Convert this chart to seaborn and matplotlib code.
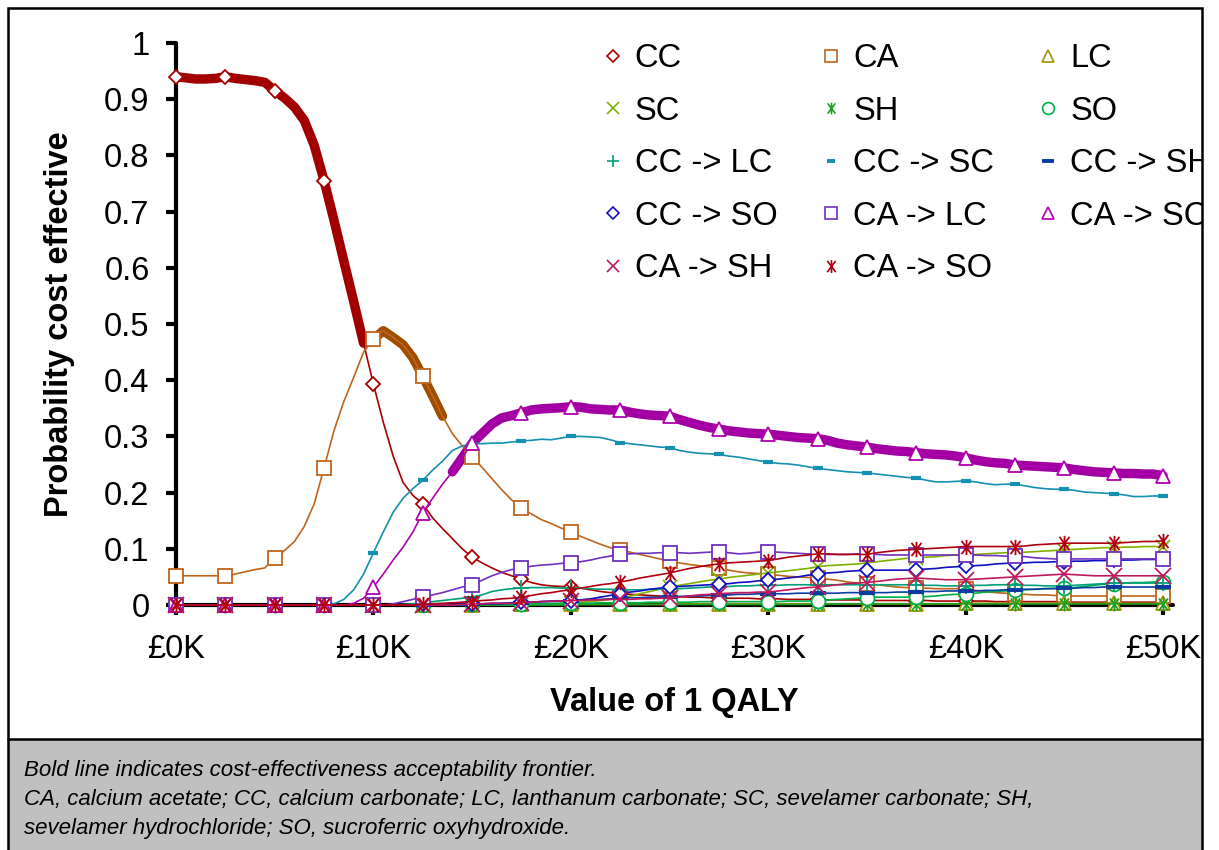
import numpy as np
import matplotlib
matplotlib.use("Agg")
import matplotlib.pyplot as plt
from matplotlib.lines import Line2D
from matplotlib.patches import Rectangle
from matplotlib.path import Path
from matplotlib.ticker import FuncFormatter, MultipleLocator
import seaborn as sns

# Willingness-to-pay grid (GBP thousands per QALY), 0.5K steps
wtp_k = np.arange(0, 50.5, 0.5)

cc = [
    .940, .938, .936, .936, .937, .940, .937, .935, .933, .930,
    .915, .902, .886, .862, .818, .755, .685, .612, .540, .466,
    .393, .325, .265, .218, .195, .180, .155, .136, .118, .100,
    .085, .075, .066, .058, .052, .046, .040, .036, .034, .033,
    .032, .030, .027, .024, .022, .021, .019, .018, .017, .016,
    .015, .015, .014, .014, .013, .013, .012, .012, .012, .011,
    .011, .011, .010, .010, .010, .010, .009, .009, .009, .009,
    .009, .008, .008, .008, .008, .008, .008, .007, .007, .007,
    .007, .007, .007, .006, .006, .006, .006, .006, .006, .006,
    .006, .005, .005, .005, .005, .005, .005, .005, .005, .005,
    .005]
ca = [
    .052, .052, .052, .052, .052, .052, .055, .059, .063, .066,
    .084, .097, .113, .140, .180, .244, .310, .362, .405, .450,
    .473, .488, .476, .463, .440, .407, .372, .336, .305, .283,
    .264, .245, .225, .205, .187, .172, .162, .152, .145, .137,
    .130, .122, .115, .108, .102, .098, .094, .090, .086, .082,
    .078, .075, .072, .070, .068, .066, .062, .059, .057, .056,
    .055, .053, .051, .050, .049, .048, .046, .044, .041, .039,
    .038, .036, .034, .032, .031, .030, .030, .029, .029, .029,
    .028, .026, .024, .022, .021, .020, .019, .018, .018, .017,
    .017, .016, .016, .016, .016, .016, .016, .016, .016, .016,
    .016]
lc = [
    0, 0, 0, 0, 0, 0, 0, 0, 0, 0,
    0, 0, 0, 0, 0, 0, 0, 0, 0, 0,
    0, 0, 0, 0, 0, 0, 0, 0, 0, 0,
    0, 0, .001, .001, .001, .001, .001, .001, .001, .001,
    .001, .001, .001, .001, .001, .001, .001, .001, .001, .001,
    .002, .002, .002, .002, .002, .002, .002, .002, .002, .002,
    .002, .002, .002, .002, .002, .002, .002, .002, .002, .002,
    .002, .002, .002, .002, .002, .002, .002, .002, .002, .002,
    .003, .003, .003, .003, .003, .003, .003, .003, .003, .003,
    .003, .003, .003, .003, .003, .003, .003, .003, .003, .003,
    .003]
sc = [
    0, 0, 0, 0, 0, 0, 0, 0, 0, 0,
    0, 0, 0, 0, 0, 0, 0, 0, 0, 0,
    0, 0, 0, 0, 0, 0, 0, 0, 0, 0,
    0, 0, .001, .001, .001, .001, .002, .002, .002, .003,
    .004, .005, .006, .008, .010, .013, .016, .020, .024, .028,
    .032, .035, .038, .041, .044, .046, .049, .051, .053, .055,
    .057, .059, .061, .063, .065, .068, .070, .071, .072, .073,
    .075, .077, .079, .081, .083, .084, .085, .086, .088, .089,
    .089, .090, .091, .092, .093, .093, .094, .095, .096, .097,
    .098, .099, .100, .101, .102, .102, .103, .103, .104, .104,
    .104]
sh = [
    0, 0, 0, 0, 0, 0, 0, 0, 0, 0,
    0, 0, 0, 0, 0, 0, 0, 0, 0, 0,
    0, 0, 0, 0, 0, 0, 0, 0, 0, 0,
    0, 0, 0, 0, 0, 0, 0, 0, 0, 0,
    .001, .001, .001, .001, .001, .001, .001, .001, .001, .001,
    .001, .001, .001, .001, .001, .001, .001, .001, .001, .001,
    .001, .001, .001, .001, .001, .002, .002, .002, .002, .002,
    .002, .002, .002, .002, .002, .002, .002, .002, .002, .002,
    .002, .002, .002, .002, .002, .002, .002, .002, .002, .002,
    .002, .002, .002, .002, .002, .002, .002, .002, .002, .002,
    .002]
so = [
    0, 0, 0, 0, 0, 0, 0, 0, 0, 0,
    0, 0, 0, 0, 0, 0, 0, 0, 0, 0,
    0, 0, 0, 0, 0, 0, 0, 0, 0, 0,
    .001, .001, .001, .001, .001, .002, .002, .002, .002, .003,
    .003, .003, .003, .004, .004, .004, .004, .004, .005, .005,
    .005, .005, .005, .006, .006, .006, .006, .006, .006, .006,
    .006, .006, .007, .007, .007, .008, .009, .010, .011, .012,
    .013, .014, .014, .014, .014, .014, .015, .016, .018, .019,
    .020, .021, .023, .024, .025, .026, .027, .028, .029, .030,
    .030, .031, .033, .035, .037, .038, .039, .040, .040, .041,
    .041]
cc_lc = [
    0, 0, 0, 0, 0, 0, 0, 0, 0, 0,
    0, 0, 0, 0, 0, 0, 0, 0, 0, 0,
    0, 0, 0, .001, .002, .004, .006, .008, .010, .012,
    .014, .018, .024, .027, .029, .030, .031, .031, .031, .030,
    .030, .030, .029, .028, .028, .027, .027, .027, .028, .028,
    .028, .029, .030, .031, .032, .032, .033, .034, .034, .035,
    .035, .035, .036, .036, .036, .036, .036, .036, .036, .036,
    .036, .036, .036, .036, .036, .036, .035, .035, .034, .034,
    .034, .035, .035, .036, .036, .036, .035, .035, .034, .034,
    .034, .035, .036, .037, .038, .039, .039, .039, .039, .039,
    .039]
cc_sc = [
    0, 0, 0, 0, 0, 0, 0, 0, 0, 0,
    0, 0, 0, 0, 0, 0, .002, .010, .027, .055,
    .093, .130, .165, .190, .207, .222, .240, .256, .275, .283,
    .287, .287, .288, .288, .290, .292, .293, .295, .294, .297,
    .300, .300, .299, .298, .294, .289, .287, .285, .283, .281,
    .280, .275, .272, .270, .269, .268, .265, .263, .260, .257,
    .254, .252, .251, .249, .246, .243, .241, .239, .237, .236,
    .235, .233, .231, .229, .227, .226, .222, .219, .219, .220,
    .221, .219, .216, .214, .215, .215, .212, .209, .207, .206,
    .206, .204, .201, .200, .199, .198, .196, .193, .193, .194,
    .194]
cc_sh = [
    0, 0, 0, 0, 0, 0, 0, 0, 0, 0,
    0, 0, 0, 0, 0, 0, 0, 0, 0, 0,
    0, 0, 0, 0, 0, 0, 0, 0, 0, 0,
    .001, .001, .002, .002, .003, .004, .005, .006, .006, .007,
    .008, .009, .010, .010, .011, .012, .013, .013, .014, .014,
    .015, .015, .016, .016, .017, .018, .018, .019, .019, .020,
    .020, .020, .020, .021, .021, .021, .021, .021, .022, .022,
    .022, .022, .022, .023, .023, .023, .024, .024, .025, .025,
    .025, .025, .026, .026, .027, .027, .028, .028, .029, .029,
    .030, .030, .031, .031, .032, .032, .032, .032, .032, .032,
    .032]
cc_so = [
    0, 0, 0, 0, 0, 0, 0, 0, 0, 0,
    0, 0, 0, 0, 0, 0, 0, 0, 0, 0,
    0, 0, 0, 0, 0, .001, .001, .001, .001, .002,
    .002, .002, .003, .003, .004, .005, .005, .006, .007, .007,
    .008, .009, .011, .014, .017, .020, .023, .025, .028, .030,
    .032, .033, .034, .035, .036, .037, .038, .040, .041, .043,
    .044, .046, .048, .050, .053, .055, .057, .058, .060, .061,
    .062, .062, .062, .062, .062, .063, .064, .065, .067, .068,
    .069, .070, .071, .073, .074, .075, .075, .076, .076, .077,
    .077, .078, .078, .079, .079, .080, .080, .080, .081, .081,
    .081]
ca_lc = [
    0, 0, 0, 0, 0, 0, 0, 0, 0, 0,
    0, 0, 0, 0, 0, 0, 0, 0, 0, 0,
    0, 0, .002, .006, .010, .014, .018, .022, .027, .032,
    .036, .044, .052, .058, .063, .066, .069, .071, .072, .074,
    .075, .077, .080, .084, .087, .090, .091, .092, .092, .093,
    .093, .093, .092, .093, .094, .095, .093, .091, .092, .094,
    .095, .094, .093, .092, .091, .091, .090, .090, .090, .091,
    .091, .090, .089, .089, .089, .089, .089, .089, .089, .089,
    .089, .089, .088, .088, .087, .087, .086, .084, .083, .082,
    .082, .082, .082, .082, .082, .082, .082, .082, .082, .082,
    .082]
ca_sc = [
    0, 0, 0, 0, 0, 0, 0, 0, 0, 0,
    0, 0, 0, 0, 0, 0, 0, 0, .003, .012,
    .032, .055, .080, .103, .130, .164, .190, .215, .237, .262,
    .288, .305, .322, .333, .337, .342, .347, .349, .350, .351,
    .353, .352, .349, .348, .347, .347, .343, .340, .338, .337,
    .336, .330, .325, .320, .316, .313, .310, .308, .306, .305,
    .304, .302, .300, .298, .297, .296, .293, .288, .285, .283,
    .281, .278, .276, .274, .273, .271, .269, .268, .267, .265,
    .262, .258, .255, .253, .252, .249, .248, .247, .246, .245,
    .244, .241, .239, .237, .236, .235, .234, .234, .233, .233,
    .230]
ca_sh = [
    0, 0, 0, 0, 0, 0, 0, 0, 0, 0,
    0, 0, 0, 0, 0, 0, 0, 0, 0, 0,
    0, 0, 0, 0, 0, 0, 0, 0, 0, .001,
    .002, .002, .003, .003, .003, .004, .005, .006, .007, .007,
    .008, .008, .009, .009, .010, .010, .010, .011, .011, .012,
    .012, .014, .016, .018, .019, .020, .021, .022, .022, .023,
    .023, .025, .027, .029, .031, .032, .034, .036, .038, .039,
    .040, .042, .044, .046, .047, .048, .047, .046, .045, .045,
    .045, .046, .047, .048, .049, .050, .051, .052, .053, .054,
    .055, .054, .053, .052, .052, .052, .052, .052, .052, .052,
    .052]
ca_so = [
    0, 0, 0, 0, 0, 0, 0, 0, 0, 0,
    0, 0, 0, 0, 0, 0, 0, 0, 0, 0,
    0, 0, 0, 0, 0, .001, .002, .003, .004, .005,
    .006, .008, .009, .011, .012, .014, .017, .020, .022, .025,
    .027, .030, .033, .036, .038, .041, .044, .048, .051, .054,
    .057, .061, .065, .068, .071, .073, .075, .076, .077, .078,
    .079, .082, .085, .087, .089, .091, .091, .090, .090, .090,
    .090, .093, .095, .097, .098, .099, .100, .101, .102, .103,
    .104, .104, .104, .104, .104, .104, .105, .107, .108, .109,
    .110, .110, .110, .110, .110, .110, .111, .112, .113, .113,
    .114]

series_names = ["CC", "CA", "LC", "SC", "SH", "SO",
                "CC -> LC", "CC -> SC", "CC -> SH", "CC -> SO",
                "CA -> LC", "CA -> SC", "CA -> SH", "CA -> SO"]
series_values = [cc, ca, lc, sc, sh, so, cc_lc, cc_sc, cc_sh, cc_so,
                 ca_lc, ca_sc, ca_sh, ca_so]

# Cost-effectiveness acceptability frontier: (strategy, from £K, to £K)
frontier = [("CC", 0, 9.5), ("CA", 10, 13.5), ("CA -> SC", 14, 50)]

# six-armed asterisk marker
ASTERISK = Path([(-0.75, -1), (0.75, 1), (-0.75, 1), (0.75, -1), (0, -1.15), (0, 1.15)],
                [Path.MOVETO, Path.LINETO] * 3)

styles = {
    "CC":       dict(color="#a80000", marker="D", ms=7.5, mew=1.3),
    "CA":       dict(color="#c0641c", marker="s", ms=10.5, mew=1.3),
    "LC":       dict(color="#a89200", marker="^", ms=10.5, mew=1.3),
    "SC":       dict(color="#80b000", marker="x", ms=10, mew=1.3),
    "SH":       dict(color="#20a020", marker=ASTERISK, ms=10, mew=1.3),
    "SO":       dict(color="#00b048", marker="o", ms=10, mew=1.3),
    "CC -> LC": dict(color="#00a07a", marker="+", ms=11, mew=1.3),
    "CC -> SC": dict(color="#1490b0", marker="_", ms=6.5, mew=3.0),
    "CC -> SH": dict(color="#0a3ca0", marker="_", ms=11, mew=3.0),
    "CC -> SO": dict(color="#1010c0", marker="D", ms=7.5, mew=1.3),
    "CA -> LC": dict(color="#7030c0", marker="s", ms=10.5, mew=1.3),
    "CA -> SC": dict(color="#b000b0", marker="^", ms=10.5, mew=1.3),
    "CA -> SH": dict(color="#c0185c", marker="x", ms=11, mew=1.3),
    "CA -> SO": dict(color="#b00010", marker=ASTERISK, ms=11, mew=1.3),
}
frontier_colours = {"CC": "#a00000", "CA": "#a04c00", "CA -> SC": "#a000a0"}

sns.set_theme(style="white")
plt.rcParams["font.family"] = ["Liberation Sans", "DejaVu Sans"]
plt.rcParams["text.color"] = "black"
plt.rcParams["axes.labelcolor"] = "black"
FS = 23.5

fig = plt.figure(figsize=(12.19, 8.5), dpi=100)
W, H = 1219, 850
ax = fig.add_axes([176 / W, 1 - 605 / H, (1173 - 176) / W, (605 - 43) / H])

# bold frontier segments, drawn beneath the individual curves
for name, lo, hi in frontier:
    vals = np.asarray(series_values[series_names.index(name)])
    mask = (wtp_k >= lo) & (wtp_k <= hi)
    sns.lineplot(x=wtp_k[mask], y=vals[mask], ax=ax, color=frontier_colours[name],
                 linewidth=6.8, solid_capstyle="round", solid_joinstyle="round",
                 zorder=2, clip_on=False, legend=False, errorbar=None)

handles = {}
for name, vals in zip(series_names, series_values):
    st = styles[name]
    face = "none" if st["marker"] is ASTERISK else "white"
    sns.lineplot(x=wtp_k, y=vals, ax=ax, color=st["color"], linewidth=1.2,
                 marker=st["marker"], markersize=st["ms"], markevery=5,
                 markerfacecolor=face, markeredgecolor=st["color"],
                 markeredgewidth=st["mew"], zorder=3, clip_on=False,
                 legend=False, errorbar=None)
    handles[name] = Line2D([], [], linestyle="none", marker=st["marker"],
                           markersize=st["ms"] * 0.85, markerfacecolor=face,
                           markeredgecolor=st["color"],
                           markeredgewidth=1.2 if st["mew"] < 2 else 2.8)

ax.set_xlim(0, 50.5)
ax.set_ylim(0, 1)
ax.xaxis.set_major_locator(MultipleLocator(10))
ax.yaxis.set_major_locator(MultipleLocator(0.1))
ax.xaxis.set_major_formatter(FuncFormatter(lambda v, p: f"£{v:.0f}K"))
ax.yaxis.set_major_formatter(FuncFormatter(lambda v, p: f"{v:g}"))
for side in ("top", "right"):
    ax.spines[side].set_visible(False)
for side in ("left", "bottom"):
    ax.spines[side].set_linewidth(3.0)
    ax.spines[side].set_color("black")
    ax.spines[side].set_capstyle("round")
ax.tick_params(axis="y", direction="out", length=7, width=3, pad=12,
               labelsize=FS, colors="black", left=True)
ax.tick_params(axis="x", direction="out", length=7, width=3, pad=14,
               labelsize=FS, colors="black", bottom=True)
ax.set_ylabel("Probability cost effective", fontsize=FS, fontweight="bold",
              labelpad=21, color="black")
ax.set_xlabel("Value of 1 QALY", fontsize=FS, fontweight="bold", labelpad=16,
              color="black")
ax.grid(False)
ax.set_facecolor("none")

# legend laid out three across, filled column by column
order = ["CC", "SC", "CC -> LC", "CC -> SO", "CA -> SH",
         "CA", "SH", "CC -> SC", "CA -> LC", "CA -> SO",
         "LC", "SO", "CC -> SH", "CA -> SC"]
leg = ax.legend([handles[n] for n in order], order, ncol=3, loc="upper left",
                bbox_to_anchor=(602 / W, 1 - 43 / H), bbox_transform=fig.transFigure,
                frameon=False, fontsize=FS, borderpad=0, borderaxespad=0,
                handlelength=0.65, handletextpad=0.35, columnspacing=1.33,
                labelspacing=0.66)
for t in leg.get_texts():
    t.set_color("black")

# outer frame, caption panel and clipping strip at the right edge
fig.patches.append(Rectangle((1203 / W, 0), 1 - 1203 / W, 1, transform=fig.transFigure,
                             facecolor="white", edgecolor="none", zorder=18))
fig.patches.append(Rectangle((8 / W, 0), (1202 - 8) / W, (H - 739) / H,
                             transform=fig.transFigure, facecolor="#c0c0c0",
                             edgecolor="none", zorder=18))
fig.patches.append(Rectangle((8 / W, -0.01), (1202 - 8) / W, 1.01 - 8 / H,
                             transform=fig.transFigure, facecolor="none",
                             edgecolor="black", linewidth=1.8, zorder=20))
fig.lines.append(Line2D([8 / W, 1202 / W], [1 - 739 / H] * 2, transform=fig.transFigure,
                        color="black", linewidth=1.8, zorder=20))

caption = ("Bold line indicates cost-effectiveness acceptability frontier.\n"
           "CA, calcium acetate; CC, calcium carbonate; LC, lanthanum carbonate; "
           "SC, sevelamer carbonate; SH,\n"
           "sevelamer hydrochloride; SO, sucroferric oxyhydroxide.")
fig.text(24 / W, 1 - 760 / H, caption, ha="left", va="top", fontsize=16,
         fontstyle="italic", linespacing=1.49, color="black", zorder=21)

fig.savefig("out.png", dpi=100, facecolor="white")
